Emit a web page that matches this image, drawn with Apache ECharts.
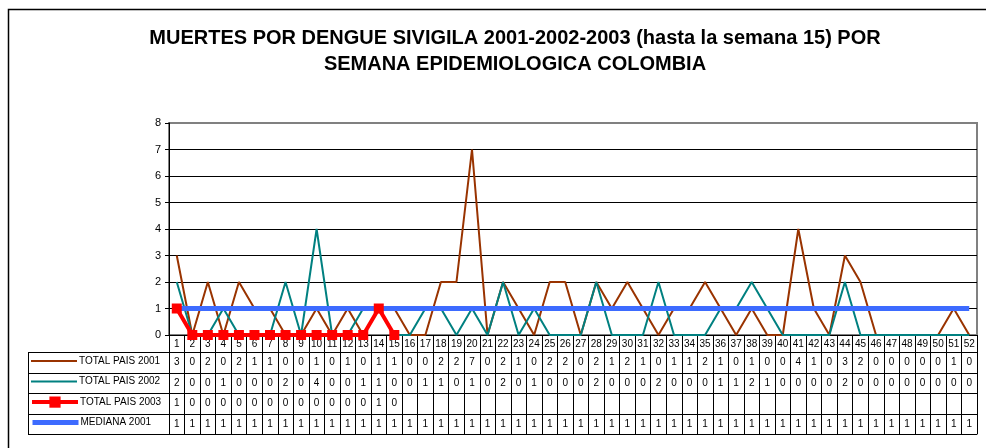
<!DOCTYPE html>
<html>
<head>
<meta charset="utf-8">
<style>
  html, body { margin: 0; padding: 0; background: #fff; }
  #chart { width: 986px; height: 448px; }
</style>
<script src="https://cdn.jsdelivr.net/npm/echarts@6/dist/echarts.min.js"></script>
</head>
<body>
<div id="chart"></div>
<script>
/* data */
var weeks = [];
for (var w = 1; w <= 52; w++) weeks.push(String(w));

var total2001 = [3,0,2,0,2,1,1,0,0,1,0,1,0,1,1,0,0,2,2,7,0,2,1,0,2,2,0,2,1,2,1,0,
                 1,1,2,1,0,1,0,0,4,1,0,3,2,0,0,0,0,0,1,0];
var total2002 = [2,0,0,1,0,0,0,2,0,4,0,0,1,1,0,0,1,1,0,1,0,2,0,1,0,0,0,2,0,0,0,2,
                 0,0,0,1,1,2,1,0,0,0,0,2,0,0,0,0,0,0,0,0];
var total2003 = [1,0,0,0,0,0,0,0,0,0,0,0,0,1,0];
var mediana2001 = [1,1,1,1,1,1,1,1,1,1,1,1,1,1,1,1,1,1,1,1,1,1,1,1,1,1,
                   1,1,1,1,1,1,1,1,1,1,1,1,1,1,1,1,1,1,1,1,1,1,1,1,1,1];
var seriesNames = ['TOTAL PAIS 2001', 'TOTAL PAIS 2002', 'TOTAL PAIS 2003', 'MEDIANA 2001'];
var seriesColors = ['#993300', '#008080', '#ff0000', '#3d6bff'];
var seriesWidths = [2, 2, 4, 5];
var tableRows = [total2001, total2002, total2003, mediana2001];

/* layout */
var plotLeft = 169, plotRight = 9, plotTop = 123, plotBottom = 113;
var headRow = 17, rowH = 20.5, tableLeft = 28;
var zeroY = 448 - plotBottom;
var font = 'Liberation Sans, Arial, sans-serif';

function rowOffset(i) { return Math.round(headRow + rowH * i); }

/* x axes: the first one carries the series, the others draw the data table */
var xAxes = [{
  type: 'category', data: weeks, boundaryGap: true, position: 'bottom', offset: 0,
  axisLine: { lineStyle: { color: '#000', width: 1 } },
  axisTick: { show: true, interval: 0, length: headRow, lineStyle: { color: '#000' } },
  axisLabel: { interval: 0, margin: 4, fontSize: 10, color: '#000', fontFamily: font }
}];
tableRows.forEach(function (row, i) {
  xAxes.push({
    type: 'category', data: weeks, boundaryGap: true, position: 'bottom',
    offset: rowOffset(i),
    axisLine: { lineStyle: { color: '#000', width: 1 } },
    axisTick: { show: true, interval: 0, length: rowOffset(i + 1) - rowOffset(i), lineStyle: { color: '#000' } },
    axisLabel: {
      interval: 0, margin: 5, fontSize: 10, color: '#000', fontFamily: font,
      formatter: function (v, idx) { return row[idx] === undefined ? '' : String(row[idx]); }
    }
  });
});
xAxes.push({
  type: 'category', data: weeks, boundaryGap: true, position: 'bottom',
  offset: rowOffset(4),
  axisLine: { lineStyle: { color: '#000', width: 1 } },
  axisTick: { show: false }, axisLabel: { show: false }
});

/* one legend per table row, so each key sits in its own row */
var legends = seriesNames.map(function (name, i) {
  var center = zeroY + (rowOffset(i) + rowOffset(i + 1)) / 2;
  return {
    orient: 'vertical', left: 30, top: center - 7, padding: 0,
    itemWidth: 46, itemHeight: 14, selectedMode: false,
    lineStyle: { width: seriesWidths[i] },
    itemStyle: i === 2 ? {} : { opacity: 0 },
    textStyle: { fontSize: 10, color: '#000', fontFamily: font, padding: [0, 0, 0, -3] },
    data: [name]
  };
});

/* lines of the label column on the left of the table, and the outer frame */
var tableGraphics = [];
for (var r = 0; r <= 4; r++) {
  var y = zeroY + rowOffset(r) + 0.5;
  tableGraphics.push({
    type: 'line', shape: { x1: tableLeft, y1: y, x2: plotLeft, y2: y },
    style: { stroke: '#000', lineWidth: 1 }
  });
}
tableGraphics.push({
  type: 'line',
  shape: { x1: tableLeft + 0.5, y1: zeroY + headRow + 0.5, x2: tableLeft + 0.5, y2: zeroY + rowOffset(4) + 0.5 },
  style: { stroke: '#000', lineWidth: 1 }
});
tableGraphics.push({
  type: 'rect', shape: { x: 8.5, y: 9.5, width: 1100, height: 600 },
  style: { fill: 'none', stroke: '#000', lineWidth: 1.5 }, z: -1
});

var option = {
  animation: false,
  backgroundColor: '#fff',
  title: {
    text: 'MUERTES POR DENGUE SIVIGILA 2001-2002-2003 (hasta la semana 15) POR\nSEMANA EPIDEMIOLOGICA COLOMBIA',
    left: 510, top: 20, textAlign: 'center',
    textStyle: { fontSize: 20, fontWeight: 'bold', color: '#000', fontFamily: font, lineHeight: 26 }
  },
  legend: legends,
  grid: {
    left: plotLeft, right: plotRight, top: plotTop, bottom: plotBottom,
    show: true, borderColor: '#808080', borderWidth: 2, backgroundColor: '#fff'
  },
  xAxis: xAxes,
  yAxis: {
    type: 'value', min: 0, max: 8, interval: 1,
    axisLine: { show: true, lineStyle: { color: '#000', width: 1 } },
    axisTick: { show: true, length: 4, lineStyle: { color: '#000' } },
    axisLabel: { fontSize: 11, color: '#000', margin: 8, fontFamily: font },
    splitLine: { lineStyle: { color: ['#000','#000','#000','#000','#000','#000','#000','#000','#808080'], width: 1 } }
  },
  graphic: tableGraphics,
  series: [
    {
      name: seriesNames[0], type: 'line', data: total2001, symbol: 'none', z: 2,
      lineStyle: { color: seriesColors[0], width: seriesWidths[0] }, itemStyle: { color: seriesColors[0] }
    },
    {
      name: seriesNames[1], type: 'line', data: total2002, symbol: 'none', z: 3,
      lineStyle: { color: seriesColors[1], width: seriesWidths[1] }, itemStyle: { color: seriesColors[1] }
    },
    {
      name: seriesNames[2], type: 'line', data: total2003, symbol: 'rect', symbolSize: 10, z: 5,
      lineStyle: { color: seriesColors[2], width: seriesWidths[2] }, itemStyle: { color: seriesColors[2] }
    },
    {
      name: seriesNames[3], type: 'line', data: mediana2001, symbol: 'none', z: 4,
      lineStyle: { color: seriesColors[3], width: seriesWidths[3] }, itemStyle: { color: seriesColors[3] }
    }
  ]
};

var chart = echarts.init(document.getElementById('chart'));
chart.setOption(option);
</script>
</body>
</html>
